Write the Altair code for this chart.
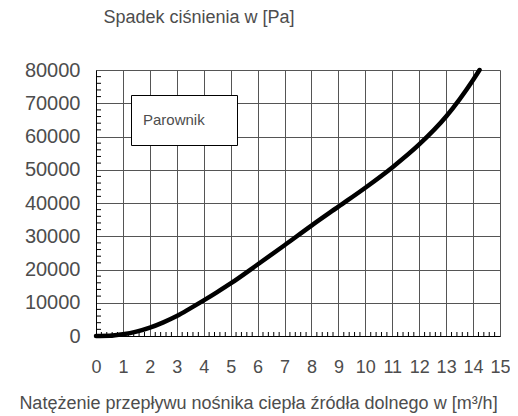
import altair as alt
import pandas as pd

# flow rate [m3/h] and pressure drop [Pa]
flow = [0, 0.5, 1, 1.5, 2, 2.5, 3, 3.5, 4, 4.5, 5, 6, 7, 8, 9, 10, 11, 12, 13, 14, 14.24]
drop = [0, 50, 500, 1300, 2500, 4100, 6000, 8300, 10700, 13200, 15800, 21500, 27300,
        33200, 38900, 44600, 50700, 57600, 66000, 77000, 80000]

x_ticks = list(range(0, 16))
y_ticks = list(range(0, 80001, 10000))
x_minor = [round(v * 0.2, 1) for v in range(0, 76) if v % 5 != 0]
y_minor = [v for v in range(0, 80001, 2000) if v % 10000 != 0]

x_title = "Natężenie przepływu nośnika ciepła źródła dolnego w [m³/h]"
y_title = "Spadek ciśnienia w [Pa]"
legend_label = "Parownik"

FONT = "Liberation Sans"
TXT = "#4d4d4d"

xs = alt.Scale(domain=[0, 15], nice=False, zero=False)
ys = alt.Scale(domain=[0, 80000], nice=False)

x_axis = alt.Axis(
    values=x_ticks, format="d", grid=True, gridColor="#555", gridWidth=1,
    domainColor="black", tickSize=0, labelFontSize=18, labelColor=TXT,
    labelFont=FONT, labelPadding=22, labelFlush=False,
    title=x_title, titleFont=FONT, titleFontSize=18, titleFontWeight="normal",
    titleColor=TXT, titleX=162, titleY=67, titleAlign="center",
    titleBaseline="middle")
y_axis = alt.Axis(
    values=y_ticks, format="d", grid=True, gridColor="#555", gridWidth=1,
    domainColor="black", tickSize=0, labelFontSize=20, labelColor=TXT,
    labelFont=FONT, labelPadding=16, labelFlush=False,
    title=y_title, titleFont=FONT, titleFontSize=18, titleFontWeight="normal",
    titleColor=TXT, titleAngle=0, titleX=7, titleY=-53, titleAlign="left",
    titleBaseline="middle")

curve_df = pd.DataFrame({"x": flow, "y": drop})

curve = alt.Chart(curve_df).mark_line(
    color="black", strokeWidth=4.5, strokeCap="round", interpolate="monotone"
).encode(
    x=alt.X("x:Q", scale=xs, axis=x_axis, title=x_title),
    y=alt.Y("y:Q", scale=ys, axis=y_axis, title=y_title),
)

xminor = alt.Chart(pd.DataFrame({"x": x_minor})).mark_rule(
    color="black", strokeWidth=1
).encode(
    x=alt.X("x:Q", scale=xs, axis=x_axis, title=x_title),
    y=alt.value(266), y2=alt.value(262),
)

yminor = alt.Chart(pd.DataFrame({"y": y_minor})).mark_rule(
    color="black", strokeWidth=1
).encode(
    y=alt.Y("y:Q", scale=ys, axis=y_axis, title=y_title),
    x=alt.value(0), x2=alt.value(5),
)

box = alt.Chart(pd.DataFrame({"a": [0]})).mark_rect(
    fill="white", stroke="black", strokeWidth=1
).encode(
    x=alt.value(35.5), x2=alt.value(141.5), y=alt.value(25.5), y2=alt.value(75.5)
)

label = alt.Chart(pd.DataFrame({"t": [legend_label]})).mark_text(
    font=FONT, fontSize=15, color=TXT, align="left", baseline="middle"
).encode(
    text="t:N", x=alt.value(47), y=alt.value(50)
)

chart = alt.layer(curve, xminor, yminor, box, label).properties(
    width=404, height=266,
    autosize=alt.AutoSizeParams(type="none"),
    padding={"left": 88, "top": 62, "right": 10, "bottom": 80},
).configure_view(stroke="black", strokeWidth=1).configure(background="white")

chart.save("out.html", embed_options={"renderer": "svg", "actions": False})
